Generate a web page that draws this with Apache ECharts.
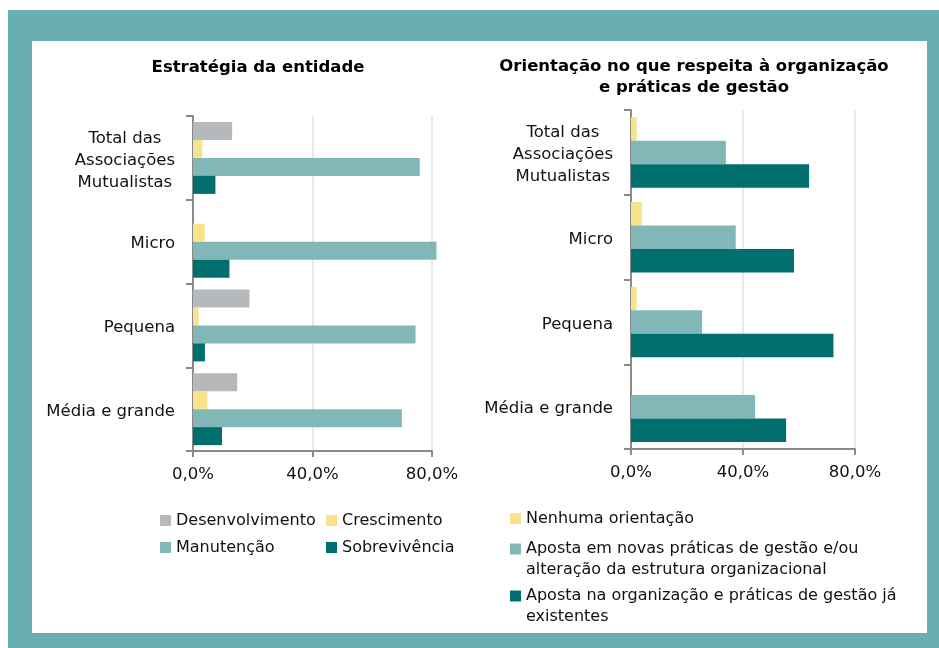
<!DOCTYPE html>
<html>
<head>
<meta charset="utf-8">
<script src="https://cdn.jsdelivr.net/npm/echarts@6/dist/echarts.min.js"></script>
<style>
	html, body { margin:0; padding:0; background:#fff; }
	#frame { position:absolute; left:8px; top:10px; width:931px; height:638px; background:#68AEB3; }
	#chart { position:absolute; left:32px; top:41px; width:895px; height:592px; background:#fff; }
</style>
</head>
<body>
<div id="frame"></div>
<div id="chart"></div>
<script>
// categorias (de cima para baixo)
var categories = ['Total das\nAssociações\nMutualistas', 'Micro', 'Pequena', 'Média e grande'];

// Estratégia da entidade (%)
var leftNames = ['Desenvolvimento', 'Crescimento', 'Manutenção', 'Sobrevivência'];
var desenvolvimento = [13.1, 0, 18.9, 14.8];
var crescimento = [3.1, 3.9, 1.9, 4.8];
var manutencao = [75.9, 81.5, 74.5, 69.9];
var sobrevivencia = [7.5, 12.2, 4.0, 9.7];

// Orientação no que respeita à organização e práticas de gestão (%)
var rightNames = [
	'Nenhuma orientação',
	'Aposta em novas práticas de gestão e/ou alteração da estrutura organizacional',
	'Aposta na organização e práticas de gestão já existentes'
];
var rightLegendText = [
	'Nenhuma orientação',
	'Aposta em novas práticas de gestão e/ou\nalteração da estrutura organizacional',
	'Aposta na organização e práticas de gestão já\nexistentes'
];
var nenhuma = [2.0, 3.9, 2.0, 0];
var novasPraticas = [33.9, 37.4, 25.4, 44.3];
var existentes = [63.6, 58.2, 72.3, 55.4];

var xTicks = [0, 40, 80];

var colGray = '#B5B9BC', colYellow = '#F8E38A', colLight = '#82B7B8', colDark = '#006F6E';
var axisCol = '#8A8A8A';
var font = 'DejaVu Sans';

var chart = echarts.init(document.getElementById('chart'));

function xAxisOf(idx){
	return {
		type:'value', gridIndex: idx, min: xTicks[0], max: xTicks[xTicks.length-1], interval: xTicks[1]-xTicks[0],
		axisLine:{show:true, lineStyle:{color:axisCol, width:2}},
		axisTick:{show:true, length:6, lineStyle:{color:axisCol, width:2}},
		splitLine:{show:true, lineStyle:{color:'#E8E8E8', width:2}},
		axisLabel:{fontFamily:font, fontSize:16.5, color:'#111', margin:15,
			formatter:function(v){ return v.toFixed(1).replace('.', ',') + '%'; }}
	};
}
function yAxisOf(idx){
	return {
		type:'category', gridIndex: idx, data: categories, inverse:true,
		axisLine:{show:true, lineStyle:{color:axisCol, width:2}},
		axisTick:{show:true, length:7, lineStyle:{color:axisCol, width:2}},
		axisLabel:{fontFamily:font, fontSize:16.5, color:'#111', margin:18, padding:[5,0,0,0],
			formatter:function(v){ return v.split('\n').map(function(s){ return '{c|' + s + '}'; }).join('\n'); },
			rich:{c:{fontFamily:font, fontSize:16.5, color:'#111', align:'center', lineHeight:22}}}
	};
}
function barOf(name, data, color, idx, w){
	return {name:name, type:'bar', xAxisIndex:idx, yAxisIndex:idx, data:data, barWidth:w, barGap:'0%',
		clip:false, itemStyle:{color:color}, emphasis:{disabled:true}};
}
// texto com duas linhas: uma linha vazia antes mantém o ícone alinhado com a primeira linha
function legendOf(name, left, top, text){
	var label = text && text.indexOf('\n') >= 0 ? '\n' + text : text;
	return {
		data:[name], left:left, top:top, padding:0, icon:'rect', itemWidth:11, itemHeight:11,
		selectedMode:false,
		formatter: label ? function(){ return label; } : null,
		textStyle:{fontFamily:font, fontSize:16, color:'#111', lineHeight:21}
	};
}

var option = {
	animation:false,
	title:[
		{text:'Estratégia da entidade', left:221, top:13, textAlign:'center',
			textStyle:{fontFamily:font, fontSize:16.5, fontWeight:'bold', color:'#000'}},
		{text:'Orientação no que respeita à organização\ne práticas de gestão', left:657, top:10, textAlign:'center',
			textStyle:{fontFamily:font, fontSize:16.5, fontWeight:'bold', color:'#000', lineHeight:21, align:'center'}}
	],
	grid:[
		{left:161, top:75, width:239, height:335},
		{left:599, top:69, width:224, height:339}
	],
	xAxis:[xAxisOf(0), xAxisOf(1)],
	yAxis:[yAxisOf(0), yAxisOf(1)],
	legend:[
		legendOf(leftNames[0], 128, 469),
		legendOf(leftNames[1], 294, 469),
		legendOf(leftNames[2], 128, 496),
		legendOf(leftNames[3], 294, 496),
		legendOf(rightNames[0], 478, 467, rightLegendText[0]),
		legendOf(rightNames[1], 478, 476.5, rightLegendText[1]),
		legendOf(rightNames[2], 478, 523.5, rightLegendText[2])
	],
	series:[
		barOf(leftNames[0], desenvolvimento, colGray, 0, 18),
		barOf(leftNames[1], crescimento, colYellow, 0, 18),
		barOf(leftNames[2], manutencao, colLight, 0, 18),
		barOf(leftNames[3], sobrevivencia, colDark, 0, 18),
		barOf(rightNames[0], nenhuma, colYellow, 1, 23.5),
		barOf(rightNames[1], novasPraticas, colLight, 1, 23.5),
		barOf(rightNames[2], existentes, colDark, 1, 23.5)
	]
};
chart.setOption(option);
</script>
</body>
</html>
